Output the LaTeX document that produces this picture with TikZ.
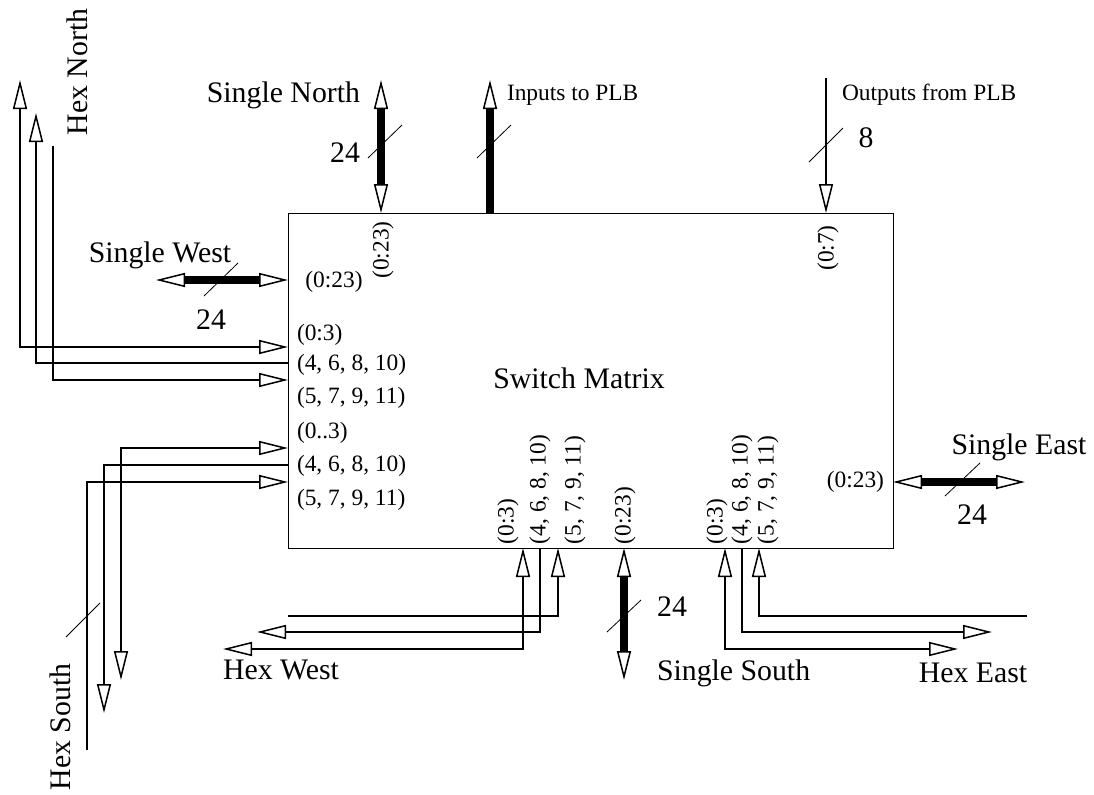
\documentclass[tikz,border=0pt]{standalone}
\usepackage{fontspec}
\setmainfont{Liberation Serif}
\usepackage{tikz}
\usetikzlibrary{arrows.meta,positioning,calc}
\tikzset{
  >={Triangle[open,length=14.5pt,width=7pt,line width=0.75pt]},
  every node/.style={inner sep=0pt,outer sep=0pt},
  biglbl/.style={font=\fontsize{14.9}{17}\selectfont},
  smalllbl/.style={font=\fontsize{11.7}{14}\selectfont},
  pinlbl/.style={smalllbl,rotate=90,anchor=west,inner sep=1pt},
  swbox/.style={draw,line width=0.5pt,minimum width=302.5pt,minimum height=167.5pt},
  wire/.style={draw,line width=0.75pt},
  bus/.style={draw,line width=4pt},
  slash/.style={draw,line width=0.4pt}
}

\begin{document}
\begin{tikzpicture}[x=0.5pt,y=-0.5pt]
  \useasboundingbox (0,0) rectangle (1094,794);

  \node[swbox,anchor=north west] (sm) at (288,213) {};
  \node[biglbl] (title) at (579,378) {Switch Matrix};

  % free ends of the connectors
  \coordinate (sn) at (381,80);
  \coordinate (ip) at (490,80);
  \coordinate (op) at (826,78);
  \coordinate (sw) at (156,280);
  \coordinate (se) at (1025,482);
  \coordinate (ss) at (624,680);
  \coordinate (hn1) at (20,80);   \coordinate (hn2) at (36,113);  \coordinate (hn3) at (53,146);
  \coordinate (hs1) at (121,680); \coordinate (hs2) at (104,713); \coordinate (hs3) at (87,750);
  \coordinate (hw1) at (223,649); \coordinate (hw2) at (257,632); \coordinate (hw3) at (288,616);
  \coordinate (he1) at (958,649); \coordinate (he2) at (992,632); \coordinate (he3) at (1027,616);

  % single lines and PLB ports
  \draw[bus,<->] (sn) -- (sn |- sm.north);
  \draw[bus,<-] (ip) -- (ip |- sm.north);
  \draw[wire,->] (op) -- (op |- sm.north);
  \draw[bus,<->] (sw) -- (sw -| sm.west);
  \draw[bus,<->] (se) -- (se -| sm.east);
  \draw[bus,<->] (ss) -- (ss |- sm.south);

  % hex lines
  \draw[wire,<->] (hn1) |- (sm.west |- 0,347);
  \draw[wire,<-] (hn2) |- (sm.west |- 0,363);
  \draw[wire,->] (hn3) |- (sm.west |- 0,380);
  \draw[wire,<->] (hs1) |- (sm.west |- 0,448);
  \draw[wire,<-] (hs2) |- (sm.west |- 0,465);
  \draw[wire,->] (hs3) |- (sm.west |- 0,482);
  \draw[wire,<->] (hw1) -| (sm.south -| 523,0);
  \draw[wire,<-] (hw2) -| (sm.south -| 540,0);
  \draw[wire,->] (hw3) -| (sm.south -| 558,0);
  \draw[wire,<->] (he1) -| (sm.south -| 725,0);
  \draw[wire,<-] (he2) -| (sm.south -| 742,0);
  \draw[wire,->] (he3) -| (sm.south -| 759,0);

  % bus width marks
  \draw[slash] (368,158) -- (402,125);
  \draw[slash] (477,158) -- (511,125);
  \draw[slash] (809,162) -- (843,128);
  \draw[slash] (204,296) -- (238,263);
  \draw[slash] (945,496) -- (980,463);
  \draw[slash] (607,632) -- (641,600);
  \draw[slash] (66,637) -- (100,603);

  % outside labels
  \node[biglbl,anchor=east] (snlbl) at (360,95) {Single North};
  \node[biglbl] (snw) at (345,153) {24};
  \node[smalllbl,anchor=west] (iplbl) at (507,95) {Inputs to PLB};
  \node[smalllbl,anchor=west] (oplbl) at (842,95) {Outputs from PLB};
  \node[biglbl] (opw) at (866,138) {8};
  \node[biglbl] (swlbl) at (160,255) {Single West};
  \node[biglbl] (sww) at (211,320) {24};
  \node[biglbl] (selbl) at (1019,447) {Single East};
  \node[biglbl] (sew) at (972,515) {24};
  \node[biglbl,anchor=west] (sslbl) at (657,673) {Single South};
  \node[biglbl] (ssw) at (672,607) {24};
  \node[biglbl,rotate=90] (hnlbl) at (77,72) {Hex North};
  \node[biglbl,rotate=90] (hslbl) at (60,727) {Hex South};
  \node[biglbl] (hwlbl) at (281,670) {Hex West};
  \node[biglbl] (helbl) at (973,673) {Hex East};

  % pin labels inside the box
  \node[pinlbl,anchor=center] (pn) at (383,250) {(0:23)};
  \node[pinlbl,anchor=center] (po) at (828,248) {(0:7)};
  \node[smalllbl] (pw) at (334,282) {(0:23)};
  \node[smalllbl,anchor=east] (pe) at (884,482) {(0:23)};
  \node[smalllbl,anchor=west] (pl1) at (297,335) {(0:3)};
  \node[smalllbl,anchor=west] (pl2) at (297,365) {(4, 6, 8, 10)};
  \node[smalllbl,anchor=west] (pl3) at (297,398) {(5, 7, 9, 11)};
  \node[smalllbl,anchor=west] (pl4) at (297,433) {(0..3)};
  \node[smalllbl,anchor=west] (pl5) at (297,466) {(4, 6, 8, 10)};
  \node[smalllbl,anchor=west] (pl6) at (297,500) {(5, 7, 9, 11)};
  \node[pinlbl] (pb1) at (508,546) {(0:3)};
  \node[pinlbl] (pb2) at (540,546) {(4, 6, 8, 10)};
  \node[pinlbl] (pb3) at (575,546) {(5, 7, 9, 11)};
  \node[pinlbl] (pb4) at (625,546) {(0:23)};
  \node[pinlbl] (pb5) at (717,546) {(0:3)};
  \node[pinlbl] (pb6) at (742,546) {(4, 6, 8, 10)};
  \node[pinlbl] (pb7) at (768,546) {(5, 7, 9, 11)};
\end{tikzpicture}
\end{document}
